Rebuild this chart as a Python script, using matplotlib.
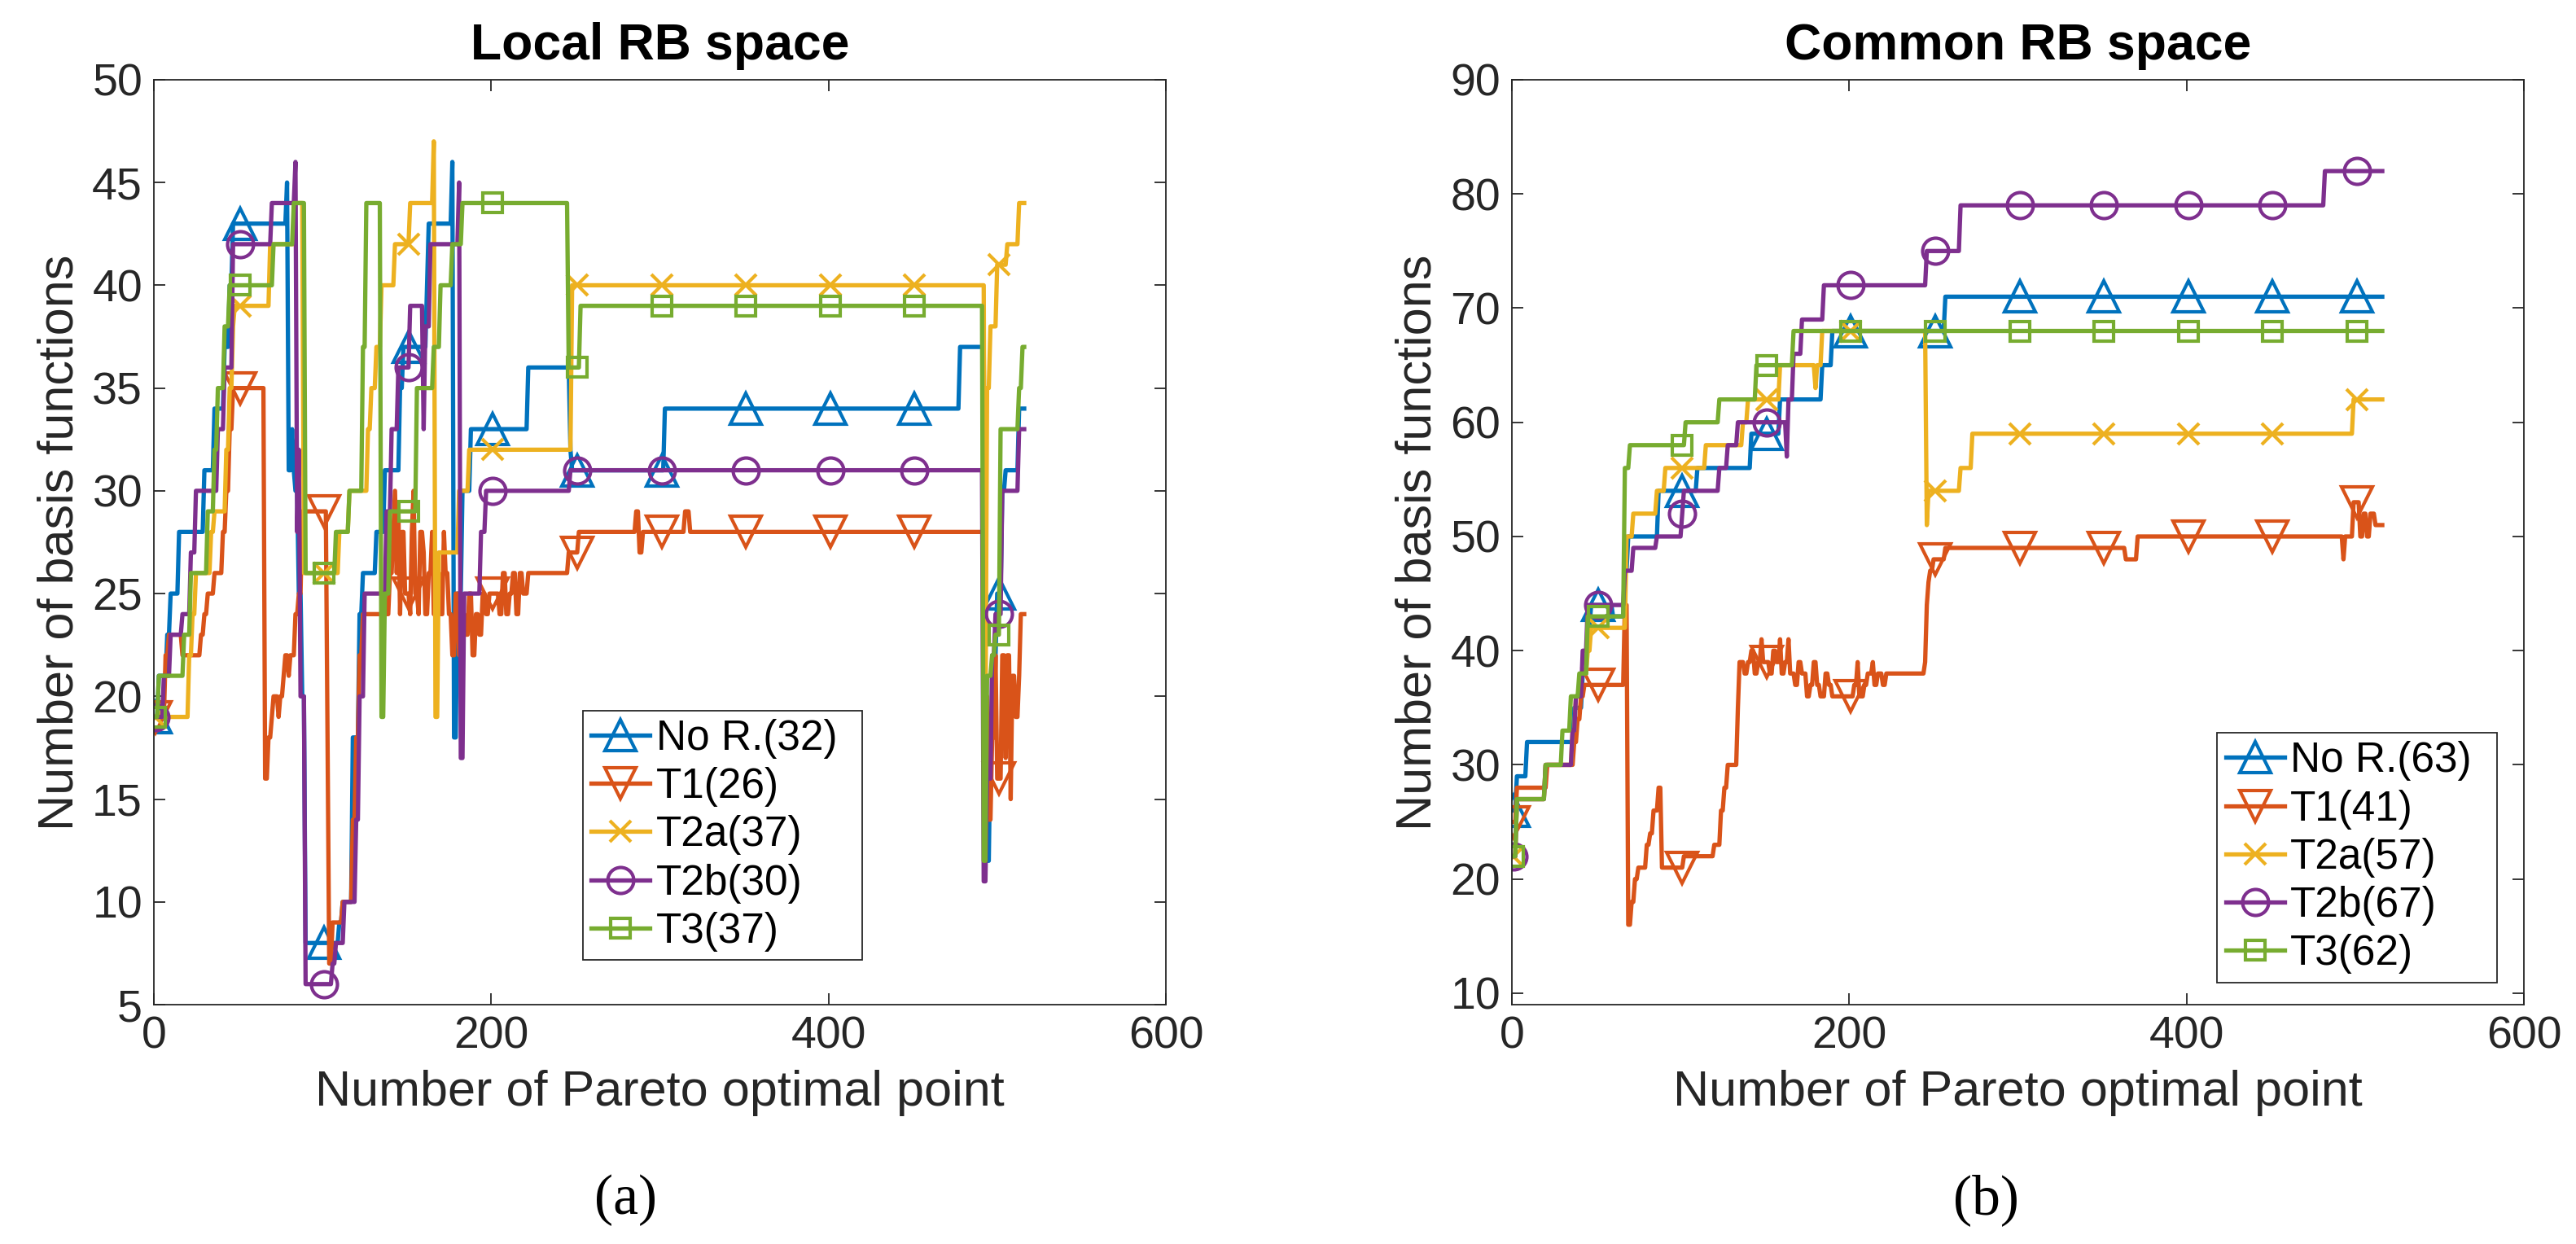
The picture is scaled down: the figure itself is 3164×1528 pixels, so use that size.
import numpy as np
import matplotlib
matplotlib.use("Agg")
import matplotlib.pyplot as plt

plt.rcParams['font.family'] = ['Liberation Sans', 'DejaVu Sans']

# Data: step breakpoints (x where the value starts, value), x runs 1..N
N = 516

# ---- Local RB space ----
nor_l_x = [1, 3, 8, 10, 15, 30, 36, 42, 45, 47, 79, 80, 82, 83, 84, 86, 88, 90, 110, 112,
           118, 122, 124, 132, 137, 146, 148, 162, 163, 177, 178, 180, 183, 188, 222, 247,
           248, 303, 478, 493, 494, 496, 499, 500, 503, 505, 513]
nor_l_y = [19, 21, 23, 25, 28, 31, 34, 37, 40, 43, 45, 31, 33, 31, 30, 25, 20, 8, 9, 10,
           18, 24, 26, 28, 31, 35, 37, 40, 43, 46, 18, 25, 30, 33, 36, 32,
           31, 34, 37, 20, 12, 18, 22, 25, 30, 31, 34]

t1_l_x = [1, 7, 9, 17, 28, 30, 32, 36, 41, 43, 45, 47, 66, 68, 70, 71, 74, 75, 77, 78,
          80, 81, 84, 86, 88, 103, 104, 106, 112, 118, 120, 122, 124, 140, 142, 143, 144,
          145, 146, 147, 149, 152, 153, 154, 155, 157, 158, 160, 161, 163, 165, 166, 168,
          170, 172, 173, 175, 177, 179, 181, 183, 185, 187, 189, 191, 193, 195, 197, 199,
          205, 207, 209, 211, 213, 215, 217, 219, 222, 246, 252, 286, 288, 290, 315, 318,
          493, 495, 497, 499, 500, 503, 505, 506, 508, 509, 511, 513, 514]
t1_l_y = [19, 22, 23, 22, 23, 24, 25, 26, 28, 30, 33, 35, 16, 18, 19, 20, 19, 20, 21, 22,
          21, 22, 24, 25, 29, 18, 7, 9, 10, 14, 18, 22, 24, 26, 28, 30, 26,
          29, 24, 28, 25, 24, 28, 30, 25, 24, 28, 27, 24, 26, 28, 24, 26,
          24, 28, 26, 24, 22, 25, 22, 24, 23, 25, 22, 24, 23, 25, 24, 25,
          24, 26, 24, 25, 26, 24, 26, 25, 26, 27, 28, 29, 27, 28, 29, 28,
          20, 14, 18, 22, 16, 22, 17, 22, 15, 21, 19, 21, 24]

t2a_l_x = [1, 21, 23, 25, 34, 36, 43, 45, 47, 48, 69, 84, 89, 110, 116, 127, 129, 132, 135,
           143, 152, 166, 167, 169, 181, 187, 248, 493, 494, 496, 500, 506, 513]
t2a_l_y = [19, 22, 24, 26, 28, 29, 32, 35, 38, 39, 42, 44, 26, 28, 30, 33, 35, 37, 40,
           42, 44, 47, 19, 27, 30, 32, 40, 18, 35, 38, 41, 42, 44]

t2b_l_x = [1, 6, 10, 17, 22, 25, 38, 42, 47, 70, 84, 85, 86, 87, 90, 106, 108, 113, 120,
           122, 125, 138, 141, 145, 152, 160, 161, 164, 181, 182, 184, 194, 197, 247, 492,
           494, 497, 499, 503, 513]
t2b_l_y = [19, 21, 23, 24, 27, 30, 33, 36, 42, 44, 46, 28, 32, 20, 6, 7, 8, 10, 14,
           20, 25, 29, 33, 36, 39, 33, 38, 42, 45, 17, 25, 28, 30, 31, 11,
           16, 22, 24, 30, 33]

t3_l_x = [1, 3, 18, 22, 32, 36, 38, 42, 45, 71, 83, 90, 108, 116, 124, 126, 135, 137, 140,
          156, 166, 170, 177, 183, 246, 253, 492, 494, 497, 499, 502, 513, 515]
t3_l_y = [19, 21, 23, 26, 29, 32, 35, 38, 40, 42, 44, 26, 28, 30, 37, 44, 19, 25, 29,
          35, 37, 40, 42, 44, 36, 39, 12, 21, 22, 23, 33, 35, 37]

# ---- Common RB space ----
nor_r_x = [1, 3, 9, 37, 42, 45, 47, 60, 67, 69, 87, 110, 142, 159, 184, 190, 257]
nor_r_y = [26, 29, 32, 35, 38, 42, 44, 43, 47, 50, 54, 56, 59, 62, 65, 68, 71]

t1_r_x = [1, 3, 21, 37, 39, 41, 43, 67, 69, 71, 73, 75, 80, 82, 84, 87, 89, 102, 120, 124,
          126, 128, 134, 135, 138, 140, 142, 144, 146, 148, 149, 153, 155, 157, 159, 160,
          162, 164, 165, 168, 170, 172, 175, 177, 179, 181, 183, 186, 188, 190, 203, 205,
          206, 209, 211, 214, 215, 217, 220, 222, 245, 246, 247, 248, 250, 257, 364, 371,
          493, 494, 499, 503, 505, 507, 509, 512]
t1_r_y = [25, 28, 30, 32, 34, 36, 37, 44, 16, 18, 20, 21, 23, 24, 26, 28, 21, 22, 23, 26,
          28, 30, 35, 39, 38, 39, 40, 38, 39, 41, 39, 38, 40, 39, 41, 38,
          39, 41, 38, 37, 39, 38, 36, 37, 39, 37, 36, 38, 37, 36, 37, 39,
          36, 37, 38, 39, 37, 38, 37, 38, 39, 44, 46, 47, 48, 49, 48, 50,
          48, 50, 53, 50, 52, 50, 52, 51]

t2a_r_x = [1, 3, 20, 36, 38, 41, 45, 47, 68, 72, 86, 91, 115, 137, 140, 159, 180, 181, 184,
           246, 247, 266, 273, 499]
t2a_r_y = [22, 27, 30, 33, 36, 38, 40, 42, 50, 52, 54, 56, 58, 60, 62, 65, 63, 65, 68,
           51, 54, 56, 59, 62]

t2b_r_x = [1, 3, 20, 36, 38, 42, 45, 67, 72, 86, 101, 102, 123, 128, 134, 163, 164, 167,
           172, 185, 246, 266, 482]
t2b_r_y = [22, 27, 30, 33, 36, 40, 44, 47, 49, 50, 52, 54, 56, 58, 60, 57, 62, 66,
           69, 72, 75, 79, 82]

t3_r_x = [1, 3, 20, 30, 35, 40, 45, 67, 70, 103, 123, 145, 167]
t3_r_y = [22, 27, 30, 33, 36, 38, 43, 56, 58, 60, 62, 65, 68]

labels_l = ['No R.(32)', 'T1(26)', 'T2a(37)', 'T2b(30)', 'T3(37)']
labels_r = ['No R.(63)', 'T1(41)', 'T2a(57)', 'T2b(67)', 'T3(62)']

colors = ['#0072BD', '#D95319', '#EDB120', '#7E2F8E', '#77AC30']
markers = ['^', 'v', 'x', 'o', 's']
msizes = [27, 27, 19, 23, 17]


def expand(xs, ys):
    edges = list(xs) + [N + 1]
    return np.repeat(ys, np.diff(edges))


x = np.arange(1, N + 1)
every = list(range(0, N, 50))
ink = '#262626'

fig = plt.figure(figsize=(31.64, 15.28), dpi=100)
ax1 = fig.add_axes([0.0597, 0.1924, 0.3929, 0.7435])
ax2 = fig.add_axes([0.5869, 0.1924, 0.3929, 0.7435])

panels = [
    (ax1, [(nor_l_x, nor_l_y), (t1_l_x, t1_l_y), (t2a_l_x, t2a_l_y), (t2b_l_x, t2b_l_y),
           (t3_l_x, t3_l_y)], labels_l, 'Local RB space', (5, 50), range(5, 51, 5),
     (0.4237, 0.0628, 0.2763, 0.2553)),
    (ax2, [(nor_r_x, nor_r_y), (t1_r_x, t1_r_y), (t2a_r_x, t2a_r_y), (t2b_r_x, t2b_r_y),
           (t3_r_x, t3_r_y)], labels_r, 'Common RB space', (9, 90), range(10, 91, 10),
     (0.697, 0.039, 0.2763, 0.255)),
]

for ax, series, labels, title, ylim, yticks, legbox in panels:
    for (xs, ys), lab, c, m, ms in zip(series, labels, colors, markers, msizes):
        ax.plot(x, expand(xs, ys), color=c, lw=3.8, marker=m, ms=ms, mfc='none',
                mew=3.0, markevery=every, label=lab)
    ax.set_xlim(0, 600)
    ax.set_ylim(*ylim)
    ax.set_xticks([0, 200, 400, 600])
    ax.set_yticks(list(yticks))
    ax.tick_params(direction='in', length=10, width=1.3, top=True, right=True,
                   labelsize=40, colors=ink, pad=10)
    for sp in ax.spines.values():
        sp.set_color(ink)
        sp.set_linewidth(1.3)
    ax.set_xlabel('Number of Pareto optimal point', fontsize=44, color=ink, labelpad=10)
    ax.set_ylabel('Number of basis functions', fontsize=44, color=ink, labelpad=8)
    ax.set_title(title, fontsize=45, fontweight='bold', pad=18)
    leg = ax.legend(loc='upper left', bbox_to_anchor=legbox, mode='expand',
                    borderaxespad=0, fontsize=37, handlelength=1.4, handletextpad=0.15,
                    labelspacing=0.2, borderpad=0.2, fancybox=False, framealpha=1,
                    numpoints=1)
    leg.get_frame().set_edgecolor(ink)
    leg.get_frame().set_linewidth(1.3)
    for t in leg.get_texts():
        t.set_color('black')

fig.text(0.243, 0.035, '(a)', ha='center', va='center', fontsize=50,
         family='Liberation Serif')
fig.text(0.771, 0.035, '(b)', ha='center', va='center', fontsize=50,
         family='Liberation Serif')

fig.savefig('out.png', dpi=100)
